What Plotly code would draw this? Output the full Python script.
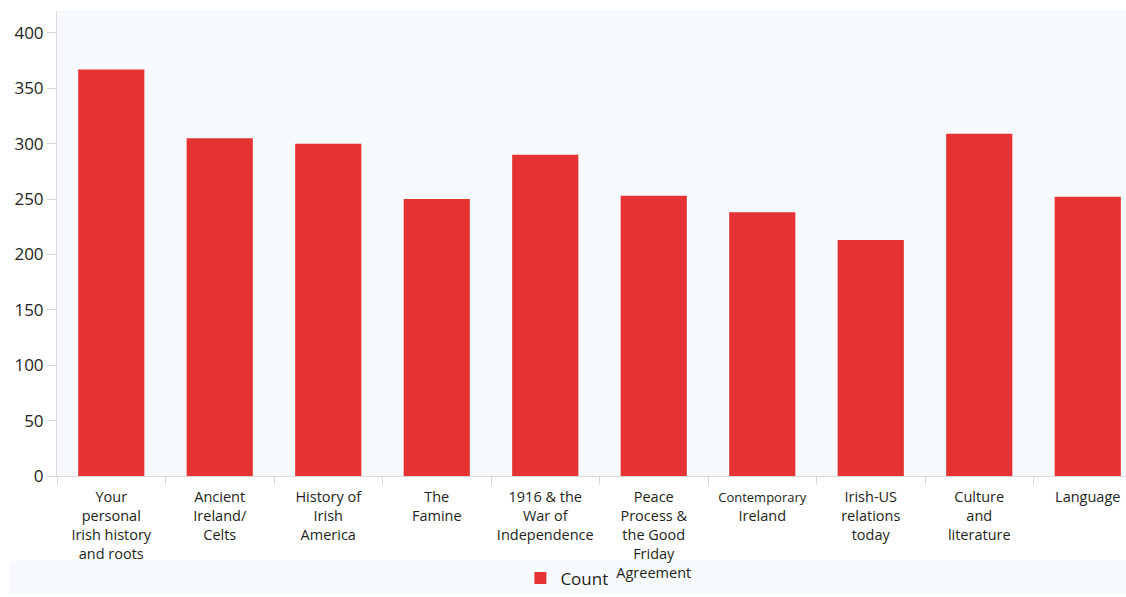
import plotly.graph_objects as go

# Survey topics and response counts
categories = [
    "Your<br>personal<br>Irish history<br>and roots",
    "Ancient<br>Ireland/<br>Celts",
    "History of<br>Irish<br>America",
    "The<br>Famine",
    "1916 & the<br>War of<br>Independence",
    "Peace<br>Process &<br>the Good<br>Friday<br>Agreement",
    "<span style='font-size:13px'>Contemporary</span><br>Ireland",
    "Irish-US<br>relations<br>today",
    "Culture<br>and<br>literature",
    "Language",
]
counts = [367, 305, 300, 250, 290, 253, 238, 213, 309, 252]
series_name = "Count"

W, H = 1126, 597
ML, MT, MB = 57, 11, 119
plot_h = H - MT - MB
plot_w = W - ML
slot = 108.5  # pixel width of one category

BAR = "#e53333"
TEXT = "#231f20"
PANEL = "#f7fafc"
AXIS = "#d9d9d9"

fig = go.Figure(
    go.Bar(
        x=categories,
        y=counts,
        name=series_name,
        marker=dict(color=BAR, line=dict(width=0)),
        showlegend=True,
    )
)

fig.update_layout(
    width=W,
    height=H,
    margin=dict(l=ML, r=0, t=MT, b=MB, pad=0),
    paper_bgcolor="white",
    plot_bgcolor=PANEL,
    bargap=0.39,
    font=dict(family="Open Sans, sans-serif", size=15, color=TEXT),
    showlegend=True,
    legend=dict(
        orientation="h",
        x=0.477,
        xanchor="center",
        y=-(581 - (H - MB)) / plot_h,
        yanchor="middle",
        bgcolor="rgba(0,0,0,0)",
        font=dict(size=17, color=TEXT),
        itemwidth=30,
    ),
    shapes=[
        # pale band behind the legend
        dict(
            type="rect",
            xref="paper",
            yref="paper",
            x0=(9 - ML) / plot_w,
            x1=1,
            y0=-(597 - (H - MB)) / plot_h,
            y1=-(563 - (H - MB)) / plot_h,
            fillcolor=PANEL,
            line=dict(width=0),
            layer="below",
        )
    ],
)

fig.update_xaxes(
    type="category",
    range=[-0.5, -0.5 + plot_w / slot],
    tickson="boundaries",
    showgrid=False,
    zeroline=False,
    showline=True,
    linecolor=AXIS,
    linewidth=1,
    ticks="outside",
    ticklen=8,
    tickcolor=AXIS,
    tickangle=0,
    ticklabelstandoff=8,
    tickfont=dict(size=14.5, color=TEXT),
)

fig.update_yaxes(
    range=[0, 400 * plot_h / (478 - 33)],
    tickvals=[0, 50, 100, 150, 200, 250, 300, 350, 400],
    showgrid=False,
    zeroline=False,
    showline=True,
    linecolor=AXIS,
    linewidth=1,
    ticks="outside",
    ticklen=9,
    tickcolor=AXIS,
    tickfont=dict(size=17, color=TEXT),
)

fig.write_html("out.html")
